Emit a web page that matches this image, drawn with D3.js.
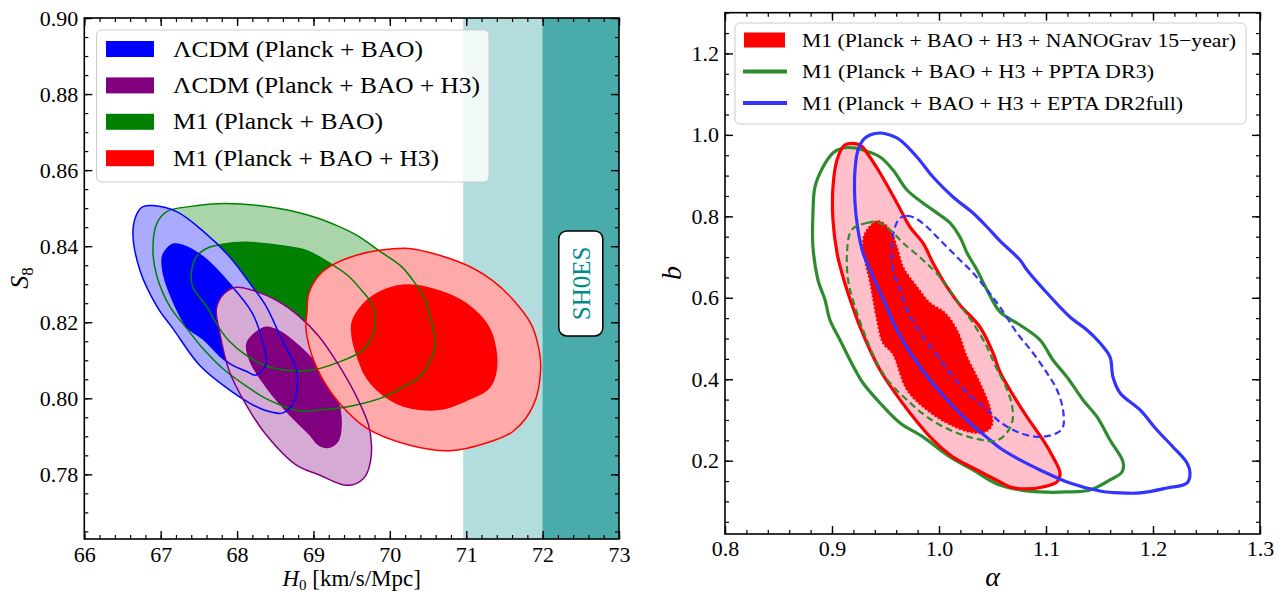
<!DOCTYPE html>
<html>
<head>
<meta charset="utf-8">
<script src="https://cdn.jsdelivr.net/npm/d3@7"></script>
<style>
  body { margin: 0; background: #fff; }
</style>
</head>
<body>
<div id="chart"></div>
<script>
// ---- left panel: H0 vs S8 ----
const h0Ticks = [66, 67, 68, 69, 70, 71, 72, 73];
const s8Ticks = [0.78, 0.80, 0.82, 0.84, 0.86, 0.88, 0.90];
const shoes2sigma = [70.96, 73];
const shoes1sigma = [72.0, 73];
const leftLegend = ['ΛCDM (Planck + BAO)', 'ΛCDM (Planck + BAO + H3)', 'M1 (Planck + BAO)', 'M1 (Planck + BAO + H3)'];

// contours as [H0, S8]
const lcdmBao95 = [[66.768,0.8504],[66.898,0.8507],[67.210,0.8491],[67.548,0.8441],[67.899,0.8373],[68.199,0.8294],[68.381,0.8242],[68.589,0.8153],[68.771,0.8079],[68.784,0.8022],[68.719,0.7982],[68.589,0.7961],[68.355,0.7969],[68.160,0.7988],[67.899,0.8022],[67.509,0.8087],[67.158,0.8184],[66.950,0.8242],[66.729,0.8336],[66.637,0.8441],[66.703,0.8491]];
const lcdmBao68 = [[67.158,0.8405],[67.288,0.8402],[67.548,0.8373],[67.899,0.8302],[68.199,0.8224],[68.329,0.8153],[68.381,0.8092],[68.251,0.8061],[68.121,0.8071],[67.938,0.8087],[67.769,0.8113],[67.574,0.8153],[67.340,0.8189],[67.119,0.8276],[67.028,0.8337],[67.028,0.8376]];
const m1Bao95 = [[67.080,0.8491],[67.379,0.8504],[67.860,0.8512],[68.550,0.8499],[69.070,0.8473],[69.331,0.8452],[69.591,0.8426],[69.851,0.8389],[70.150,0.8347],[70.332,0.8302],[70.462,0.8258],[70.540,0.8205],[70.593,0.8145],[70.502,0.8087],[70.371,0.8053],[70.150,0.8027],[69.890,0.8001],[69.500,0.7980],[69.070,0.7969],[68.810,0.7967],[68.420,0.7995],[68.121,0.8032],[67.808,0.8079],[67.548,0.8132],[67.340,0.8184],[67.119,0.8242],[66.950,0.8321],[66.898,0.8389],[66.950,0.8460]];
const m1Bao68 = [[67.470,0.8373],[67.600,0.8394],[67.808,0.8405],[68.121,0.8410],[68.550,0.8402],[68.901,0.8389],[69.239,0.8352],[69.461,0.8321],[69.630,0.8284],[69.760,0.8250],[69.812,0.8216],[69.799,0.8179],[69.760,0.8158],[69.630,0.8124],[69.331,0.8095],[68.979,0.8074],[68.641,0.8074],[68.381,0.8085],[68.121,0.8113],[67.899,0.8150],[67.769,0.8184],[67.600,0.8242],[67.418,0.8294],[67.405,0.8336]];
const lcdmBaoH3_95 = [[67.991,0.8292],[68.199,0.8284],[68.511,0.8258],[68.810,0.8216],[69.070,0.8163],[69.331,0.8087],[69.552,0.8009],[69.721,0.7930],[69.760,0.7877],[69.747,0.7835],[69.682,0.7796],[69.552,0.7775],[69.396,0.7772],[69.070,0.7799],[68.771,0.7825],[68.381,0.7904],[68.121,0.7982],[67.899,0.8071],[67.769,0.8176],[67.730,0.8237],[67.834,0.8276]];
const lcdmBaoH3_68 = [[68.251,0.8176],[68.381,0.8189],[68.550,0.8179],[68.810,0.8140],[69.070,0.8085],[69.292,0.8014],[69.370,0.7948],[69.331,0.7888],[69.200,0.7869],[69.070,0.7875],[68.940,0.7904],[68.680,0.7956],[68.381,0.8027],[68.160,0.8098],[68.121,0.8145]];
const m1BaoH3_95 = [[70.250,0.8394],[70.650,0.8376],[71.090,0.8342],[71.355,0.8308],[71.620,0.8258],[71.845,0.8197],[71.935,0.8145],[71.975,0.8079],[71.880,0.7982],[71.620,0.7914],[71.275,0.7883],[70.785,0.7862],[70.250,0.7877],[69.690,0.7922],[69.335,0.7988],[69.135,0.8045],[68.979,0.8113],[68.901,0.8184],[68.914,0.8224],[68.940,0.8276],[69.070,0.8323],[69.245,0.8350],[69.560,0.8376],[69.860,0.8389]];
const m1BaoH3_68 = [[70.250,0.8300],[70.650,0.8284],[71.010,0.8250],[71.275,0.8197],[71.380,0.8145],[71.405,0.8079],[71.310,0.8027],[71.010,0.7993],[70.650,0.7969],[70.250,0.7974],[69.950,0.8001],[69.690,0.8053],[69.560,0.8113],[69.495,0.8166],[69.505,0.8205],[69.690,0.8258],[69.950,0.8289]];

// ---- right panel: alpha vs b ----
const alphaTicks = [0.8, 0.9, 1.0, 1.1, 1.2, 1.3];
const bTicks = [0.2, 0.4, 0.6, 0.8, 1.0, 1.2];
const rightLegend = ['M1 (Planck + BAO + H3 + NANOGrav 15\u2212year)', 'M1 (Planck + BAO + H3 + PPTA DR3)', 'M1 (Planck + BAO + H3 + EPTA DR2full)'];

// contours as [alpha, b]
const nanograv95 = [[0.9121,0.9752],[0.9262,0.9752],[0.9327,0.9555],[0.9449,0.9064],[0.9607,0.8328],[0.9729,0.7738],[0.9850,0.7346],[0.9944,0.6855],[1.0075,0.6265],[1.0196,0.5823],[1.0383,0.5283],[1.0505,0.4645],[1.0570,0.4178],[1.0664,0.3737],[1.0822,0.3074],[1.0972,0.2509],[1.1065,0.2091],[1.1131,0.1699],[1.1103,0.1478],[1.0972,0.1355],[1.0822,0.1306],[1.0664,0.1355],[1.0570,0.1478],[1.0355,0.1772],[1.0131,0.2091],[0.9944,0.2509],[0.9729,0.3172],[0.9570,0.3737],[0.9449,0.4228],[0.9355,0.4719],[0.9262,0.5283],[0.9187,0.5823],[0.9103,0.6511],[0.9047,0.7100],[0.9009,0.7910],[0.9009,0.8721],[0.9047,0.9383]];
const nanograv68 = [[0.9430,0.7886],[0.9542,0.7665],[0.9607,0.7247],[0.9664,0.6756],[0.9794,0.6265],[0.9916,0.5873],[1.0056,0.5627],[1.0168,0.5210],[1.0262,0.4547],[1.0383,0.3908],[1.0477,0.3294],[1.0495,0.2877],[1.0430,0.2705],[1.0290,0.2705],[1.0075,0.2926],[0.9888,0.3246],[0.9701,0.3737],[0.9570,0.4613],[0.9477,0.4890],[0.9421,0.5455],[0.9355,0.6388],[0.9308,0.6928],[0.9290,0.7419],[0.9327,0.7665]];
const ppta95 = [[0.9103,0.9678],[0.9215,0.9678],[0.9290,0.9629],[0.9449,0.9457],[0.9570,0.9138],[0.9701,0.8647],[0.9850,0.8328],[1.0009,0.8033],[1.0103,0.7837],[1.0196,0.7493],[1.0262,0.7100],[1.0355,0.6683],[1.0449,0.6192],[1.0570,0.5652],[1.0757,0.5332],[1.0944,0.4964],[1.1065,0.4473],[1.1196,0.4055],[1.1346,0.3491],[1.1477,0.3074],[1.1598,0.2509],[1.1720,0.1969],[1.1710,0.1723],[1.1598,0.1527],[1.1411,0.1281],[1.1196,0.1232],[1.0944,0.1232],[1.0757,0.1281],[1.0542,0.1429],[1.0318,0.1772],[1.0103,0.2091],[0.9850,0.2583],[0.9636,0.2926],[0.9449,0.3417],[0.9290,0.3908],[0.9168,0.4473],[0.9075,0.4964],[0.8981,0.5455],[0.8935,0.5946],[0.8869,0.6437],[0.8822,0.7247],[0.8822,0.8082],[0.8841,0.8721],[0.8916,0.9212],[0.9009,0.9555]];
const ppta68 = [[0.9215,0.7738],[0.9327,0.7837],[0.9421,0.7861],[0.9542,0.7665],[0.9664,0.7346],[0.9850,0.6928],[1.0009,0.6511],[1.0131,0.6068],[1.0243,0.5652],[1.0318,0.5381],[1.0449,0.4792],[1.0523,0.4350],[1.0617,0.3859],[1.0682,0.3368],[1.0682,0.2926],[1.0598,0.2583],[1.0505,0.2484],[1.0318,0.2558],[1.0103,0.2754],[0.9888,0.3074],[0.9701,0.3491],[0.9542,0.3908],[0.9421,0.4399],[0.9290,0.5210],[0.9196,0.5946],[0.9150,0.6437],[0.9140,0.7100],[0.9168,0.7591]];
const epta95 = [[0.9449,1.0046],[0.9542,0.9997],[0.9636,0.9875],[0.9794,0.9457],[0.9944,0.8966],[1.0131,0.8475],[1.0318,0.8082],[1.0449,0.7738],[1.0570,0.7395],[1.0757,0.6928],[1.0822,0.6683],[1.1009,0.6118],[1.1224,0.5529],[1.1383,0.5210],[1.1505,0.4890],[1.1598,0.4547],[1.1626,0.4055],[1.1692,0.3663],[1.1879,0.3246],[1.2037,0.2754],[1.2187,0.2337],[1.2318,0.1944],[1.2346,0.1699],[1.2318,0.1453],[1.2131,0.1330],[1.1879,0.1208],[1.1692,0.1208],[1.1505,0.1257],[1.1196,0.1478],[1.0944,0.1772],[1.0757,0.2018],[1.0570,0.2312],[1.0477,0.2509],[1.0290,0.2926],[1.0103,0.3417],[0.9916,0.3982],[0.9757,0.4547],[0.9607,0.5210],[0.9495,0.5873],[0.9355,0.6683],[0.9290,0.7100],[0.9243,0.7665],[0.9215,0.8328],[0.9215,0.9138],[0.9243,0.9629],[0.9290,0.9875],[0.9355,0.9997]];
const epta68 = [[0.9636,0.7959],[0.9701,0.8009],[0.9776,0.7959],[0.9888,0.7738],[1.0009,0.7419],[1.0168,0.7002],[1.0318,0.6609],[1.0449,0.6192],[1.0570,0.5774],[1.0729,0.5136],[1.0879,0.4645],[1.1009,0.4154],[1.1103,0.3737],[1.1159,0.3246],[1.1159,0.2828],[1.1103,0.2681],[1.0944,0.2583],[1.0757,0.2681],[1.0570,0.2951],[1.0449,0.3246],[1.0262,0.3663],[1.0103,0.4154],[0.9944,0.4719],[0.9794,0.5259],[0.9701,0.5701],[0.9636,0.6192],[0.9570,0.6683],[0.9561,0.7247],[0.9589,0.7738]];

const SERIF = '"Liberation Serif", "Times New Roman", serif';

class ContourPanel {

    constructor(_config) {
        this.config = {
            svg: _config.svg,
            id: _config.id,
            left: _config.left,
            top: _config.top,
            width: _config.width,
            height: _config.height,
            xDomain: _config.xDomain,
            yDomain: _config.yDomain,
            xTicks: _config.xTicks,
            yTicks: _config.yTicks,
            xMinorCount: _config.xMinorCount,
            yMinorCount: _config.yMinorCount,
            xFormat: _config.xFormat,
            yFormat: _config.yFormat,
            xPad: _config.xPad || 8
        };
        this.initVis();
    }

    initVis() {
        let vis = this;
        let c = vis.config;

        vis.xScale = d3.scaleLinear().domain(c.xDomain).range([0, c.width]);
        vis.yScale = d3.scaleLinear().domain(c.yDomain).range([c.height, 0]);

        vis.chart = c.svg.append('g')
            .attr('transform', `translate(${c.left}, ${c.top})`);

        vis.chart.append('clipPath').attr('id', c.id + '-clip')
            .append('rect').attr('width', c.width).attr('height', c.height);

        vis.plot = vis.chart.append('g').attr('clip-path', `url(#${c.id}-clip)`);

        vis.line = d3.line()
            .x(d => vis.xScale(d[0]))
            .y(d => vis.yScale(d[1]))
            .curve(d3.curveCatmullRomClosed.alpha(0.5));
    }

    fill(data, color) {
        this.plot.append('path').datum(data)
            .attr('d', this.line)
            .attr('fill', color)
            .attr('stroke', 'none');
    }

    stroke(data, color, width, dash) {
        this.plot.append('path').datum(data)
            .attr('d', this.line)
            .attr('fill', 'none')
            .attr('stroke', color)
            .attr('stroke-width', width)
            .attr('stroke-dasharray', dash || null)
            .attr('stroke-linejoin', 'round');
    }

    band(range, color) {
        let vis = this;
        vis.plot.append('rect')
            .attr('x', vis.xScale(range[0]))
            .attr('width', vis.xScale(range[1]) - vis.xScale(range[0]))
            .attr('y', 0)
            .attr('height', vis.config.height)
            .attr('fill', color);
    }

    drawAxes() {
        let vis = this;
        let c = vis.config;
        let xMinor = d3.ticks(c.xDomain[0], c.xDomain[1], c.xMinorCount);
        let yMinor = d3.ticks(c.yDomain[0], c.yDomain[1], c.yMinorCount);

        const sides = [
            [d3.axisBottom, vis.xScale, c.xTicks, xMinor, `translate(0, ${c.height})`, c.xFormat],
            [d3.axisTop, vis.xScale, c.xTicks, xMinor, 'translate(0, 0)', null],
            [d3.axisLeft, vis.yScale, c.yTicks, yMinor, 'translate(0, 0)', c.yFormat],
            [d3.axisRight, vis.yScale, c.yTicks, yMinor, `translate(${c.width}, 0)`, null]
        ];

        sides.forEach(([axisFn, scale, major, minor, tr, fmt]) => {
            vis.chart.append('g')
                .attr('transform', tr)
                .call(axisFn(scale).tickValues(minor).tickSize(-4).tickFormat(''))
                .call(g => g.select('.domain').remove())
                .selectAll('line').attr('stroke-width', 1.2);

            let g = vis.chart.append('g')
                .attr('class', 'axis')
                .attr('transform', tr)
                .call(axisFn(scale).tickValues(major).tickSize(-8)
                    .tickPadding(axisFn === d3.axisBottom ? c.xPad : 6)
                    .tickFormat(fmt ? d3.format(fmt) : ''));
            g.select('.domain').remove();
            g.selectAll('line').attr('stroke-width', 1.4);
            g.attr('font-size', 22).attr('font-family', SERIF);
        });

        vis.chart.append('rect')
            .attr('width', c.width)
            .attr('height', c.height)
            .attr('fill', 'none')
            .attr('stroke', '#000')
            .attr('stroke-width', 1.6);
    }
}


const svg = d3.select('#chart').append('svg')
    .attr('width', 1285)
    .attr('height', 593)
    .attr('font-family', SERIF);

// ---------- left panel ----------
const left = new ContourPanel({
    svg: svg, id: 'left',
    left: 84.3, top: 18, width: 534.7, height: 521,
    xDomain: [66, 73], yDomain: [0.763, 0.90],
    xTicks: h0Ticks, yTicks: s8Ticks,
    xMinorCount: 35, yMinorCount: 27,
    xFormat: 'd', yFormat: '.2f', xPad: 7
});

left.band(shoes2sigma, '#b3dcdc');
left.band(shoes1sigma, '#4aabab');

left.fill(m1Bao95, '#aad5aa');
left.fill(m1Bao68, '#008000');
left.fill(lcdmBao95, '#aaaaff');
left.fill(lcdmBao68, '#0000ff');
left.fill(lcdmBaoH3_95, '#d5aad5');
left.fill(lcdmBaoH3_68, '#800080');
left.fill(m1BaoH3_95, '#ffaaaa');
left.fill(m1BaoH3_68, '#ff0000');

left.stroke(m1Bao95, '#008000', 1.5);
left.stroke(m1Bao68, '#008000', 1.5);
left.stroke(lcdmBao95, '#0000ff', 1.5);
left.stroke(lcdmBao68, '#0000ff', 1.5);
left.stroke(lcdmBaoH3_95, '#800080', 1.5);
left.stroke(m1BaoH3_95, '#ff0000', 1.5);

// SH0ES tag
const shoesG = left.chart.append('g')
    .attr('transform', `translate(${left.xScale(72.5)}, ${left.yScale(0.8302)})`);
shoesG.append('rect')
    .attr('x', -22).attr('y', -52.5).attr('width', 44).attr('height', 105)
    .attr('rx', 8).attr('fill', '#fff').attr('stroke', '#000').attr('stroke-width', 1.5);
shoesG.append('text')
    .attr('transform', 'rotate(-90)')
    .attr('text-anchor', 'middle')
    .attr('dy', '0.35em')
    .attr('font-size', 25)
    .attr('fill', '#008b8b')
    .text('SH0ES');

left.drawAxes();

// left legend
const leftColors = ['#0000ff', '#800080', '#008000', '#ff0000'];
const leftTextLen = [250, 307, 210, 266];
svg.append('rect')
    .attr('x', 96.5).attr('y', 30).attr('width', 392.5).attr('height', 152)
    .attr('rx', 5).attr('fill', '#fff').attr('fill-opacity', 0.8)
    .attr('stroke', '#cccccc').attr('stroke-width', 1);
leftLegend.forEach((name, i) => {
    let y = 49 + i * 36.4;
    svg.append('rect')
        .attr('x', 106).attr('y', y - 8).attr('width', 48).attr('height', 16)
        .attr('fill', leftColors[i]);
    svg.append('text')
        .attr('x', 173).attr('y', y + 7.5)
        .attr('font-size', 23)
        .attr('textLength', leftTextLen[i])
        .attr('lengthAdjust', 'spacingAndGlyphs')
        .text(name);
});

// left axis labels
const h0Label = svg.append('text')
    .attr('x', 84.3 + 534.7 / 2).attr('y', 586)
    .attr('text-anchor', 'middle')
    .attr('font-size', 23);
h0Label.append('tspan').attr('font-style', 'italic').text('H');
h0Label.append('tspan').attr('font-size', 15).attr('dy', 4).text('0');
h0Label.append('tspan').attr('dy', -4).text(' [km/s/Mpc]');

const s8Label = svg.append('text')
    .attr('transform', 'translate(28, 278) rotate(-90)')
    .attr('text-anchor', 'middle')
    .attr('font-size', 26);
s8Label.append('tspan').attr('font-style', 'italic').text('S');
s8Label.append('tspan').attr('font-size', 17).attr('dy', 5).text('8');


// ---------- right panel ----------
const right = new ContourPanel({
    svg: svg, id: 'right',
    left: 725, top: 12.7, width: 535, height: 521.3,
    xDomain: [0.8, 1.3], yDomain: [0.02, 1.3],
    xTicks: alphaTicks, yTicks: bTicks,
    xMinorCount: 25, yMinorCount: 26,
    xFormat: '.1f', yFormat: '.1f', xPad: 6
});

right.fill(nanograv95, '#ffc0cb');
right.fill(nanograv68, '#ff0000');
right.stroke(nanograv68, '#ff0000', 2, '2,2');
right.stroke(ppta95, '#2e8b2e', 3.2);
right.stroke(nanograv95, '#ff0000', 3.2);
right.stroke(epta95, '#3333ff', 3.2);
right.stroke(ppta68, '#2e8b2e', 2.2, '7,4');
right.stroke(epta68, '#3333ff', 2.2, '7,4');

right.drawAxes();

// right legend
const rightColors = ['#ff0000', '#2e8b2e', '#3333ff'];
const rightTextLen = [434, 352, 381];
svg.append('rect')
    .attr('x', 735).attr('y', 23).attr('width', 511).attr('height', 101)
    .attr('rx', 5).attr('fill', '#fff').attr('fill-opacity', 0.8)
    .attr('stroke', '#cccccc').attr('stroke-width', 1);
rightLegend.forEach((name, i) => {
    let y = 40 + i * 31.5;
    if (i === 0) {
        svg.append('rect')
            .attr('x', 744).attr('y', y - 7.5).attr('width', 41).attr('height', 15)
            .attr('fill', rightColors[i]);
    } else {
        svg.append('line')
            .attr('x1', 743).attr('x2', 787).attr('y1', y).attr('y2', y)
            .attr('stroke', rightColors[i]).attr('stroke-width', 4);
    }
    svg.append('text')
        .attr('x', 802).attr('y', y + 6.5)
        .attr('font-size', 19.5)
        .attr('textLength', rightTextLen[i])
        .attr('lengthAdjust', 'spacingAndGlyphs')
        .text(name);
});

// right axis labels
svg.append('text')
    .attr('x', 725 + 535 / 2).attr('y', 586)
    .attr('text-anchor', 'middle')
    .attr('font-size', 28)
    .attr('font-style', 'italic')
    .text('α');

svg.append('text')
    .attr('transform', 'translate(681, 273) rotate(-90)')
    .attr('text-anchor', 'middle')
    .attr('font-size', 28)
    .attr('font-style', 'italic')
    .text('b');

svg.selectAll('text').style('font-family', SERIF);
</script>
</body>
</html>
